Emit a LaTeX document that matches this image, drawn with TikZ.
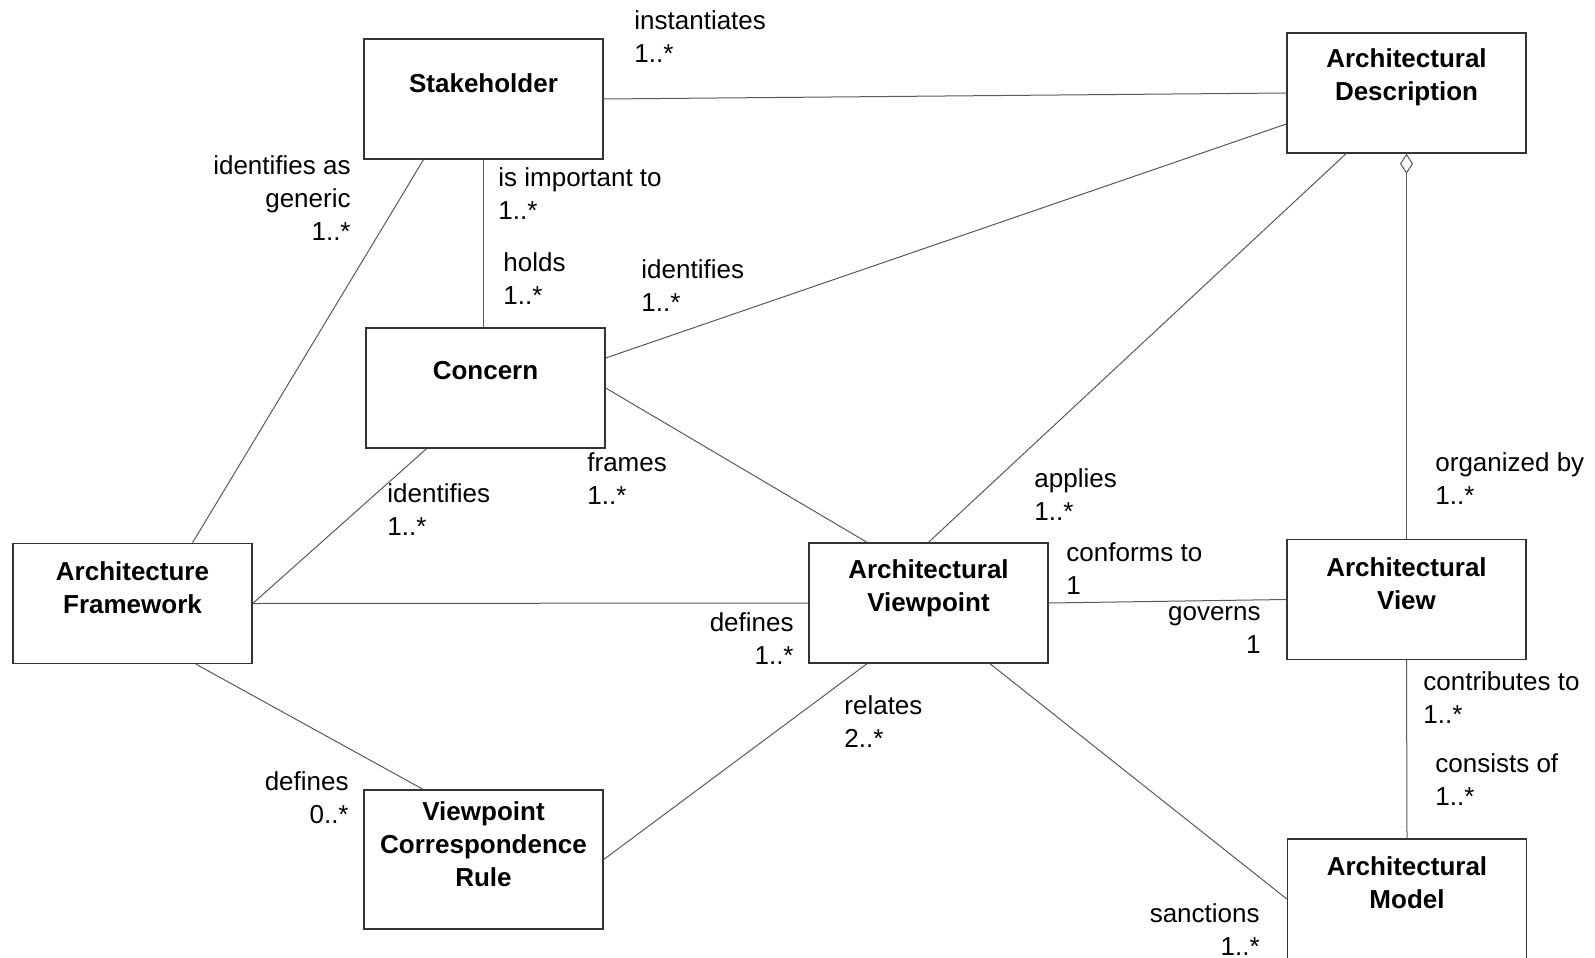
\documentclass[tikz,border=0pt]{standalone}
\usepackage{fontspec}
\setmainfont{Liberation Sans}
\usetikzlibrary{arrows.meta}

\begin{document}
\begin{tikzpicture}[
        x=0.5pt, y=-0.5pt,
        cls/.style={draw=black!80, line width=0.7pt, minimum width=119.5pt, minimum height=60pt, inner sep=0pt},
        clsname/.style={font=\fontsize{13}{16.5}\selectfont\bfseries, align=center, inner sep=0pt},
        rolename/.style={font=\fontsize{13}{16.5}\selectfont, inner sep=0pt},
        assoc/.style={draw=black!65, line width=0.5pt}
    ]
    \useasboundingbox (0,0) rectangle (1595,958);

    \node[cls] (sh) at (483.5,99) {};
    \node[cls] (ad) at (1406.5,93) {};
    \node[cls] (co) at (485.5,388) {};
    \node[cls] (af) at (132.5,603.5) {};
    \node[cls] (vp) at (928.5,603) {};
    \node[cls] (vw) at (1406.5,599.5) {};
    \node[cls, minimum height=69.5pt] (vcr) at (483.5,859.5) {};
    \node[cls] (md) at (1407,899) {};

    \node[clsname] (sh-n) at (483.5,83) {Stakeholder};
    \node[clsname] (ad-n) at (1406.5,77.5) {Architectural\\Description};
    \node[clsname] (co-n) at (485.5,371) {Concern};
    \node[clsname] (af-n) at (132.5,588) {Architecture\\Framework};
    \node[clsname] (vp-n) at (928.5,588) {Architectural\\Viewpoint};
    \node[clsname] (vw-n) at (1406.5,584) {Architectural\\View};
    \node[clsname] (vcr-n) at (483.5,844) {Viewpoint\\Correspondence\\Rule};
    \node[clsname] (md-n) at (1407,883) {Architectural\\Model};

    \draw[assoc] (sh.east) -- (ad.west);
    \draw[assoc] (sh.south) -- (sh.south |- co.north);
    \draw[assoc] ([xshift=-30pt]sh.south) -- ([xshift=30pt]af.north);
    \draw[assoc] ([yshift=15pt]co.east) -- ([yshift=-15.5pt]ad.west);
    \draw[assoc] (co.east) -- ([xshift=-30.75pt]vp.north);
    \draw[assoc] ([xshift=-29.5pt]co.south) -- (af.east);
    \draw[assoc] (af.east) -- (vp.west);
    \draw[assoc] ([xshift=31.75pt]af.south) -- ([xshift=-30.25pt]vcr.north);
    \draw[assoc] (vcr.east) -- ([xshift=-30.75pt]vp.south);
    \draw[assoc] (vp.north) -- ([xshift=-30.25pt]ad.south);
    \draw[assoc] (vp.east) -- (vw.west);
    \draw[assoc] ([xshift=30.75pt]vp.south) -- (md.west);
    \draw[assoc, {Diamond[open,length=10pt,width=6.5pt]}-] (ad.south) -- (vw.north);
    \draw[assoc] (vw.south) -- (md.north);

    \node[rolename, anchor=west, align=left] (l-inst) at (634,37) {instantiates\\1..*};
    \node[rolename, anchor=east, align=right] (l-gen) at (351,198) {identifies as\\generic\\1..*};
    \node[rolename, anchor=west, align=left] (l-imp) at (498,194) {is important to\\1..*};
    \node[rolename, anchor=west, align=left] (l-hold) at (503,279) {holds\\1..*};
    \node[rolename, anchor=west, align=left] (l-idco) at (641,286) {identifies\\1..*};
    \node[rolename, anchor=west, align=left] (l-idaf) at (387,510) {identifies\\1..*};
    \node[rolename, anchor=west, align=left] (l-fr) at (587,478.5) {frames\\1..*};
    \node[rolename, anchor=west, align=left] (l-app) at (1034,495) {applies\\1..*};
    \node[rolename, anchor=west, align=left] (l-org) at (1435,479) {organized by\\1..*};
    \node[rolename, anchor=west, align=left] (l-conf) at (1066,569) {conforms to\\1};
    \node[rolename, anchor=east, align=right] (l-gov) at (1261,629.5) {governs\\1};
    \node[rolename, anchor=east, align=right] (l-defvp) at (794,638.5) {defines\\1..*};
    \node[rolename, anchor=west, align=left] (l-contr) at (1423,697.5) {contributes to\\1..*};
    \node[rolename, anchor=west, align=left] (l-rel) at (844,722) {relates\\2..*};
    \node[rolename, anchor=west, align=left] (l-cons) at (1435,780) {consists of\\1..*};
    \node[rolename, anchor=east, align=right] (l-defr) at (349,797.5) {defines\\0..*};
    \node[rolename, anchor=east, align=right] (l-sanc) at (1260,929.5) {sanctions\\1..*};
\end{tikzpicture}
\end{document}
